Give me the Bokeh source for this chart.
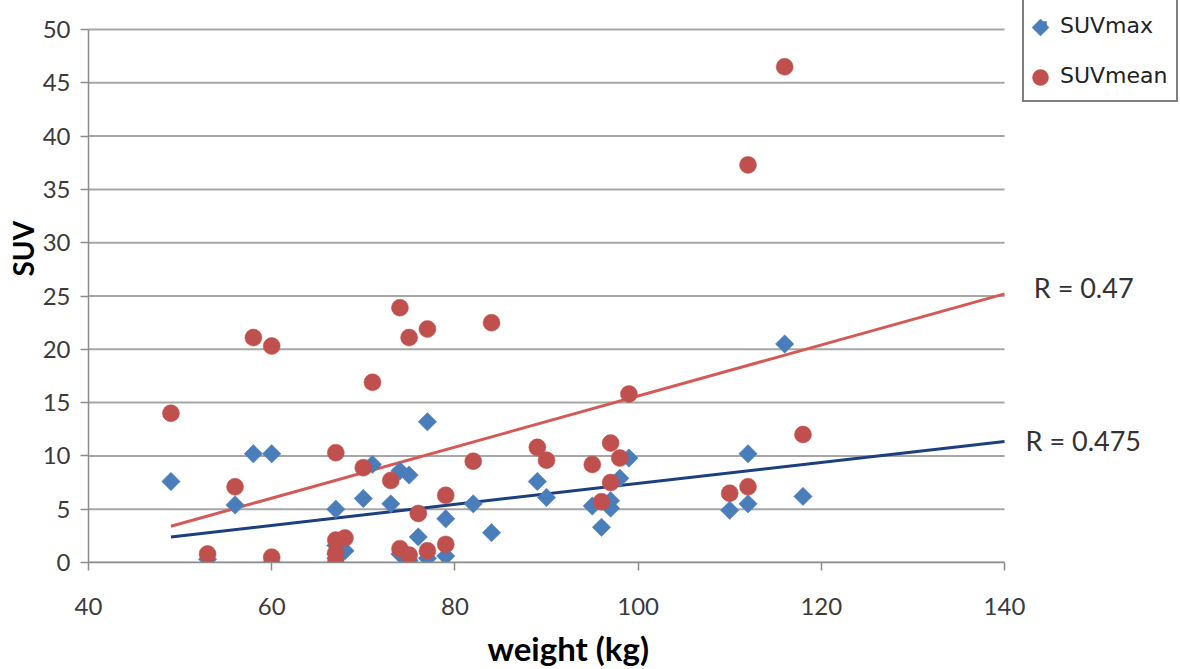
import numpy as np
from bokeh.plotting import figure
from bokeh.models import Legend, LegendItem, Label, FixedTicker, Range1d, Title
from bokeh.embed import file_html
from bokeh.resources import INLINE

# ---- data ----
weight_max = [49, 53, 56, 58, 60, 60, 67, 67, 67, 67, 68, 70, 71, 73, 74, 74, 75, 75, 76, 77,
              77, 79, 79, 82, 84, 89, 90, 95, 96, 97, 97, 98, 99, 110, 112, 112, 116, 118]
suv_max = [7.6, 0.3, 5.4, 10.2, 10.2, 0.0, 5.0, 1.6, 0.8, 0.4, 1.1, 6.0, 9.2, 5.5, 8.6, 0.8, 8.2, 0.2, 2.4, 13.2,
           0.4, 4.1, 0.6, 5.5, 2.8, 7.6, 6.1, 5.3, 3.3, 5.1, 5.8, 7.9, 9.8, 4.9, 10.2, 5.5, 20.5, 6.2]
weight_mean = [49, 53, 56, 58, 60, 60, 67, 67, 67, 67, 68, 70, 71, 73, 74, 74, 75, 75, 76, 77,
               77, 79, 79, 82, 84, 89, 90, 95, 96, 97, 97, 98, 99, 110, 112, 112, 116, 118]
suv_mean = [14.0, 0.8, 7.1, 21.1, 20.3, 0.5, 10.3, 2.1, 0.9, 0.0, 2.3, 8.9, 16.9, 7.7, 23.9, 1.3, 21.1, 0.7, 4.6, 21.9,
            1.1, 6.3, 1.7, 9.5, 22.5, 10.8, 9.6, 9.2, 5.7, 11.2, 7.5, 9.8, 15.8, 6.5, 7.1, 37.3, 46.5, 12.0]

trend_x = [49, 140]
max_fit = [0.0984, -2.42]    # slope, intercept
mean_fit = [0.2396, -8.34]
r_labels = ["R = 0.475", "R = 0.47"]
r_label_pos = [[142.3, 11.4], [143.2, 25.8]]
series_names = ["SUVmax", "SUVmean"]
x_ticks = [40, 60, 80, 100, 120, 140]
y_ticks = [0, 5, 10, 15, 20, 25, 30, 35, 40, 45, 50]

BLUE = "#4a7ebb"
RED = "#c0504d"

# ---- layout geometry (pixels) ----
W, H = 1180, 669
LEFT, BOTTOM = 88, 107
AXIS_PX_X = 916     # pixels spanned by x_ticks[0]..x_ticks[-1]
AXIS_PX_Y = 533     # pixels spanned by y_ticks[0]..y_ticks[-1]
frame_w = W - LEFT
frame_h = H - BOTTOM
x0, x1 = x_ticks[0], x_ticks[-1]
y0, y1 = y_ticks[0], y_ticks[-1]
x_end = x0 + (x1 - x0) * frame_w / AXIS_PX_X
y_end = y0 + (y1 - y0) * frame_h / AXIS_PX_Y


def px_to_x(px):
    return x0 + (px - LEFT) * (x1 - x0) / AXIS_PX_X


def py_to_y(py):
    return y0 + (frame_h - py) * (y1 - y0) / AXIS_PX_Y


# legend box geometry
LEG_LEFT, LEG_TOP = 1022, 2
LEG_PAD, GLYPH_W, GLYPH_H, LEG_SPACING = 8, 20, 34, 16
LEG_H = 2 * LEG_PAD + 2 * GLYPH_H + LEG_SPACING

p = figure(width=W, height=H, output_backend="svg", toolbar_location=None,
           x_range=Range1d(x0, x_end), y_range=Range1d(y0, y_end),
           min_border_left=LEFT, min_border_right=0, min_border_top=0, min_border_bottom=BOTTOM)
p.outline_line_color = None
p.background_fill_color = "white"

# axes
for ax in (p.xaxis[0], p.yaxis[0]):
    ax.axis_line_color = "#8c8c8c"
    ax.axis_line_width = 1.5
    ax.major_tick_line_color = "#8c8c8c"
    ax.major_tick_line_width = 1.5
    ax.major_tick_in = 0
    ax.major_tick_out = 8
    ax.minor_tick_line_color = None
    ax.major_label_text_font = "Lato"
    ax.major_label_text_font_size = "24px"
    ax.major_label_text_color = "#3b3b3b"

p.xaxis.ticker = FixedTicker(ticks=x_ticks)
p.yaxis.ticker = FixedTicker(ticks=y_ticks)
p.xaxis.bounds = (x0, x1)
p.yaxis.bounds = (y0, y1)
p.xaxis.major_label_standoff = 27
p.yaxis.major_label_standoff = 10
# small blank spacer between the tick labels and the x title
p.xaxis.axis_label = " "
p.xaxis.axis_label_standoff = 0
p.xaxis.axis_label_text_font_size = "7px"

# axis titles as side titles (positioned precisely)
p.add_layout(Title(text="weight (kg)", align="left", offset=399, standoff=0, vertical_align="top",
                   text_font="Lato", text_font_style="bold", text_font_size="33px",
                   text_color="black"), "below")
p.add_layout(Title(text="SUV", align="left", offset=286, standoff=0,
                   text_font="Lato", text_font_style="bold", text_font_size="28px",
                   text_color="black"), "left")

# horizontal grid lines, spanning only the axis extent
p.xgrid.grid_line_color = None
p.ygrid.grid_line_color = None
p.segment(x0=[x0] * len(y_ticks), x1=[x1] * len(y_ticks), y0=y_ticks, y1=y_ticks,
          line_color="#a6a6a6", line_width=2)

# trend lines
xs = np.array(trend_x, dtype=float)
p.line(xs, max_fit[0] * xs + max_fit[1], line_color="#1c3f7e", line_width=3)
p.line(xs, mean_fit[0] * xs + mean_fit[1], line_color="#d45a57", line_width=3)

# points
r_max = p.scatter(weight_max, suv_max, marker="square", angle=np.pi / 4, size=13,
                  fill_color=BLUE, line_color=BLUE, line_width=0.5)
r_mean = p.scatter(weight_mean, suv_mean, marker="circle", size=17,
                   fill_color=RED, line_color=RED, line_width=0.5)

# legend key markers (full-size diamond / circle under the transparent legend)
key_px_x = LEG_LEFT + LEG_PAD + GLYPH_W / 2
key_py = [LEG_TOP + LEG_PAD + GLYPH_H / 2 + i * (GLYPH_H + LEG_SPACING) for i in range(2)]
p.scatter([px_to_x(key_px_x)], [py_to_y(key_py[0])], marker="square", angle=np.pi / 4, size=12,
          fill_color=BLUE, line_color=BLUE, line_width=0.5)
p.scatter([px_to_x(key_px_x)], [py_to_y(key_py[1])], marker="circle", size=16,
          fill_color=RED, line_color=RED, line_width=0.5)

legend = Legend(items=[LegendItem(label=series_names[0], renderers=[r_max]),
                       LegendItem(label=series_names[1], renderers=[r_mean])],
                location=(LEG_LEFT - LEFT, frame_h - (LEG_TOP + LEG_H)),
                border_line_color="black", border_line_width=2,
                padding=LEG_PAD, spacing=LEG_SPACING, glyph_width=GLYPH_W, glyph_height=GLYPH_H,
                label_standoff=8, label_text_font="DejaVu Sans", label_text_font_size="22px",
                label_text_color="#222222", margin=0, background_fill_alpha=0.0)
p.add_layout(legend)

for txt, (lx, ly) in zip(r_labels, r_label_pos):
    p.add_layout(Label(x=lx, y=ly, text=txt, text_baseline="middle", text_font="Lato",
                       text_font_size="27px", text_color="#333333"))

open("out.html", "w").write(file_html(p, INLINE))
